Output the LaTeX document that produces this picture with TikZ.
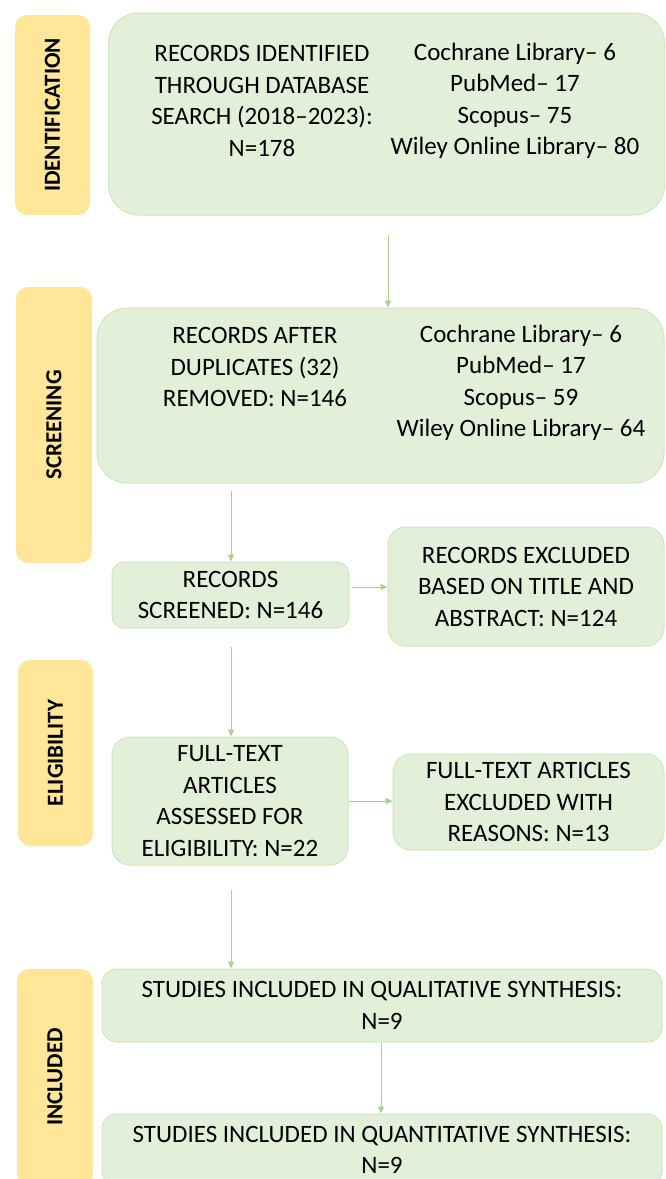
\documentclass[tikz,border=0pt]{standalone}
\usepackage{fontspec}
\setmainfont{Carlito}
\usetikzlibrary{arrows.meta}
\definecolor{gfill}{HTML}{E2F0D9}
\definecolor{gline}{HTML}{CFE6C0}
\definecolor{yfill}{HTML}{FFE699}
\definecolor{arrc}{HTML}{A9D18E}
\newcommand\maintxt{\fontsize{25}{31.5}\selectfont}
\newcommand\sidetxt{\fontsize{23}{28}\selectfont\bfseries}
\begin{document}
\begin{tikzpicture}[x=1pt,y=-1pt,
  gbox/.style={draw=gline, line width=1pt, fill=gfill, inner sep=0pt, align=center, font=\maintxt},
  txt/.style={inner sep=0pt, align=center, font=\maintxt},
  side/.style={fill=yfill, rounded corners=12pt, inner sep=0pt, rotate=90, font=\sidetxt},
  arr/.style={draw=arrc, line width=0.8pt, -{Triangle[length=7pt,width=6pt]}}]
\clip (0,0) rectangle (665,1179);
% side labels
\node[side, minimum width=200pt, minimum height=75pt] (sid) at (52.5,115) {IDENTIFICATION};
\node[side, minimum width=276pt, minimum height=76pt] (sscr) at (54,425) {SCREENING};
\node[side, minimum width=186pt, minimum height=75pt] (selig) at (55.5,753) {ELIGIBILITY};
\node[side, minimum width=216pt, minimum height=76pt] (sinc) at (55,1077) {INCLUDED};
% boxes
\node[gbox, rounded corners=30pt, minimum width=556pt, minimum height=202pt] (ident) at (386.5,114) {};
\node[txt] (identl) at (262,101) {RECORDS IDENTIFIED\\THROUGH DATABASE\\SEARCH (2018--2023):\\N=178};
\node[txt] (identr) at (515,101) {Cochrane Library-- 6\\PubMed-- 17\\Scopus-- 75\\Wiley Online Library-- 80};
\node[gbox, rounded corners=30pt, minimum width=567pt, minimum height=175pt] (scr) at (380.5,395.5) {};
\node[txt] (scrl) at (255,367) {RECORDS AFTER\\DUPLICATES (32)\\REMOVED: N=146};
\node[txt] (scrr) at (521,383) {Cochrane Library-- 6\\PubMed-- 17\\Scopus-- 59\\Wiley Online Library-- 64};
\node[gbox, rounded corners=12pt, minimum width=237pt, minimum height=66pt] (screened) at (230.5,595) {RECORDS\\SCREENED: N=146};
\node[gbox, rounded corners=18pt, minimum width=276pt, minimum height=119pt] (excl) at (526,586.5) {RECORDS EXCLUDED\\BASED ON TITLE AND\\ABSTRACT: N=124};
\node[gbox, rounded corners=18pt, minimum width=236pt, minimum height=128pt] (full) at (230,801) {FULL-TEXT\\ARTICLES\\ASSESSED FOR\\ELIGIBILITY: N=22};
\node[gbox, rounded corners=18pt, minimum width=271pt, minimum height=96pt] (fexcl) at (528.5,802) {FULL-TEXT ARTICLES\\EXCLUDED WITH\\REASONS: N=13};
\node[gbox, rounded corners=15pt, minimum width=560pt, minimum height=73pt] (qual) at (382,1005.5) {STUDIES INCLUDED IN QUALITATIVE SYNTHESIS:\\N=9};
\node[gbox, rounded corners=15pt, minimum width=560pt, minimum height=72pt] (quant) at (382,1150) {STUDIES INCLUDED IN QUANTITATIVE SYNTHESIS:\\N=9};
% connectors
\coordinate (a1) at (388,235);
\draw[arr] (a1) -- (a1 |- scr.north);
\coordinate (a2) at (231,491);
\draw[arr] (a2) -- (a2 |- screened.north);
\coordinate (a3) at (352,587);
\draw[arr] (a3) -- (a3 -| excl.west);
\coordinate (a4) at (231,647);
\draw[arr] (a4) -- (a4 |- full.north);
\draw[arr] (full.east) -- (full.east -| fexcl.west);
\coordinate (a5) at (231,890);
\draw[arr] (a5) -- (a5 |- qual.north);
\draw[arr] (qual.south -| 381,0) -- (quant.north -| 381,0);
\end{tikzpicture}
\end{document}
